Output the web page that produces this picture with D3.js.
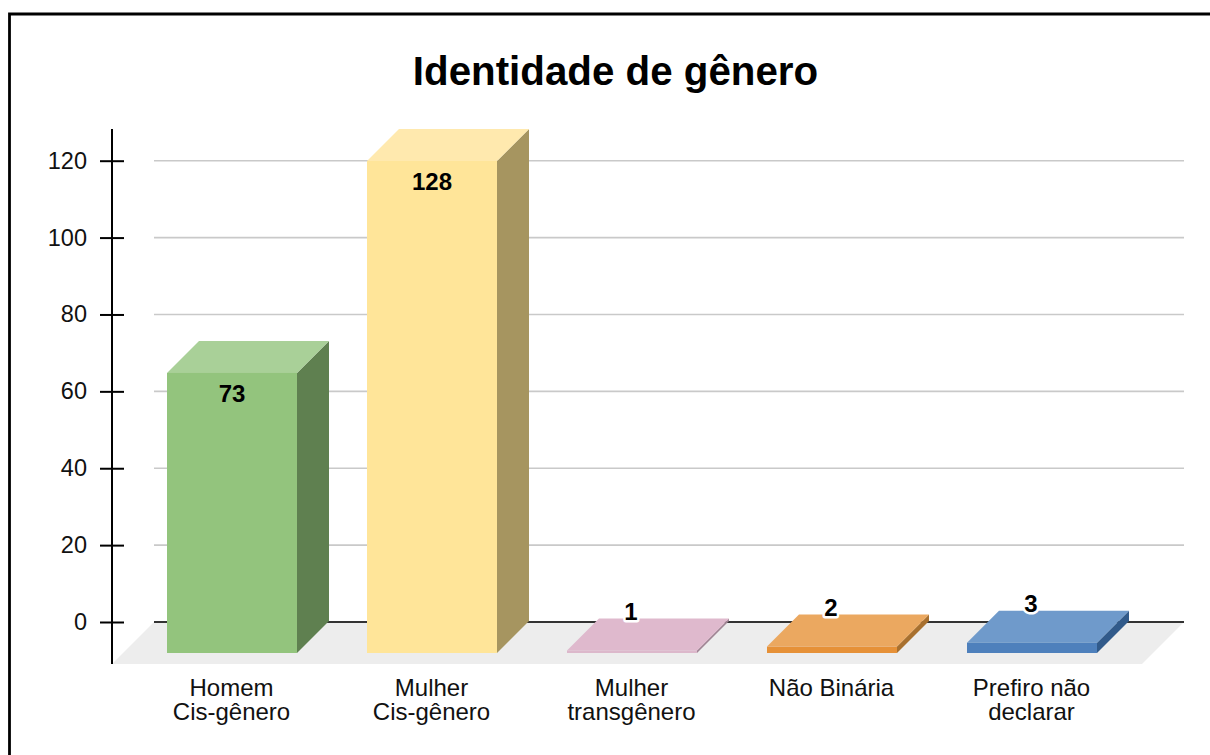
<!DOCTYPE html>
<html><head><meta charset="utf-8">
<script src="https://cdn.jsdelivr.net/npm/d3@7"></script>
<style>
html,body{margin:0;padding:0;background:#fff;overflow:hidden}
svg{display:block}
text{font-family:"Liberation Sans",Arial,sans-serif;fill:#111}
</style></head><body>
<svg id="c" width="1210" height="755"></svg>
<script>
const chartTitle = "Identidade de gênero";
const categories = ["Homem|Cis-gênero","Mulher|Cis-gênero","Mulher|transgênero","Não Binária","Prefiro não|declarar"];
const values = [73,128,1,2,3];
const frontColors = ["#93c47d","#ffe599","#dcb8cb","#e69138","#4e80bc"];
const topColors   = ["#a9d098","#ffe9ae","#dfb9cd","#eba860","#6f9acb"];
const sideColors  = ["#5f8050","#a69560","#a08494","#a8702f","#315a8a"];
const yTicks = [0,20,40,60,80,100,120];

const svg = d3.select("#c");
const y = d3.scaleLinear().domain([0,120]).range([622,160.7]);
const yBar = d3.scaleLinear().domain([0,128]).range([654.3,161]);
const x = d3.scaleBand().domain(categories).range([132,1132]).paddingInner(0.35).paddingOuter(0.175);
const depth = 32, baseY = 653;
const floorDepth = 42, floorBack = 154, floorRight = 1184, floorFront = 664;

// frame
svg.append("path").attr("d","M9.5,760V14H1215").attr("fill","none").attr("stroke","#000").attr("stroke-width",2.8);

// title
svg.append("text").attr("x",615.5).attr("y",85).attr("text-anchor","middle")
  .style("font-size","40.3px").style("font-weight","700").style("fill","#000").text(chartTitle);

// gridlines
svg.append("g").selectAll("line").data(yTicks.filter(d=>d>0)).join("line")
  .attr("x1",floorBack).attr("x2",floorRight).attr("y1",d=>y(d)).attr("y2",d=>y(d))
  .attr("stroke","#c9c9c9").attr("stroke-width",1.6);

// floor
svg.append("polygon")
  .attr("points",[[floorBack,y(0)],[floorRight,y(0)],[floorRight-floorDepth,floorFront],[floorBack-floorDepth,floorFront]].join(" "))
  .attr("fill","#ededed");
svg.append("line").attr("x1",floorBack).attr("x2",floorRight).attr("y1",y(0)).attr("y2",y(0))
  .attr("stroke","#333").attr("stroke-width",1.8);

// y axis
const axis = d3.axisLeft(y).tickValues(yTicks).tickSize(12).tickPadding(13);
const ag = svg.append("g").attr("transform","translate(112,0)").call(axis);
ag.select(".domain").remove();
ag.selectAll(".tick line").attr("stroke","#000").attr("stroke-width",2).attr("x2",-12);
ag.selectAll(".tick").append("line").attr("x1",0).attr("x2",12).attr("stroke","#000").attr("stroke-width",2);
ag.selectAll("text").style("font-size","23.5px").style("font-family","'Liberation Sans',Arial,sans-serif").style("fill","#111");
svg.append("line").attr("x1",112).attr("x2",112).attr("y1",129).attr("y2",floorFront).attr("stroke","#000").attr("stroke-width",2);

// bars
const g = svg.append("g").selectAll("g").data(categories).join("g");
const topY = (i) => yBar(values[i]);
g.append("polygon").attr("fill",(d,i)=>sideColors[i]).attr("points",(d,i)=>{
  const r=x(d)+x.bandwidth(), t=topY(i);
  return [[r,t],[r+depth,t-depth],[r+depth,baseY-depth],[r,baseY]].join(" ");
});
g.append("polygon").attr("fill",(d,i)=>topColors[i]).attr("points",(d,i)=>{
  const l=x(d), r=l+x.bandwidth(), t=topY(i);
  return [[l,t],[l+depth,t-depth],[r+depth,t-depth],[r,t]].join(" ");
});
g.append("rect").attr("fill",(d,i)=>frontColors[i])
  .attr("x",d=>x(d)).attr("width",x.bandwidth())
  .attr("y",(d,i)=>topY(i)).attr("height",(d,i)=>baseY-topY(i));

// value labels
g.append("text").attr("text-anchor","middle")
  .attr("x",(d,i)=>x(d)+x.bandwidth()/2 - (values[i]<10?1:0))
  .attr("y",(d,i)=>values[i]<10 ? topY(i)-depth+1.5 : topY(i)+29)
  .style("font-size","24px").style("font-weight","700").style("fill","#000")
  .style("stroke","#fff").style("stroke-width",(d,i)=>values[i]<10?"5px":"0").style("stroke-linejoin","round")
  .style("paint-order","stroke").text((d,i)=>values[i]);

// category labels
g.each(function(d){
  const t = d3.select(this).append("text").attr("text-anchor","middle").style("font-size","24px");
  d.split("|").forEach((s,k)=>t.append("tspan").attr("x",x(d)+x.bandwidth()/2-0.5).attr("y",695.5+k*24).text(s));
});
</script></body></html>
